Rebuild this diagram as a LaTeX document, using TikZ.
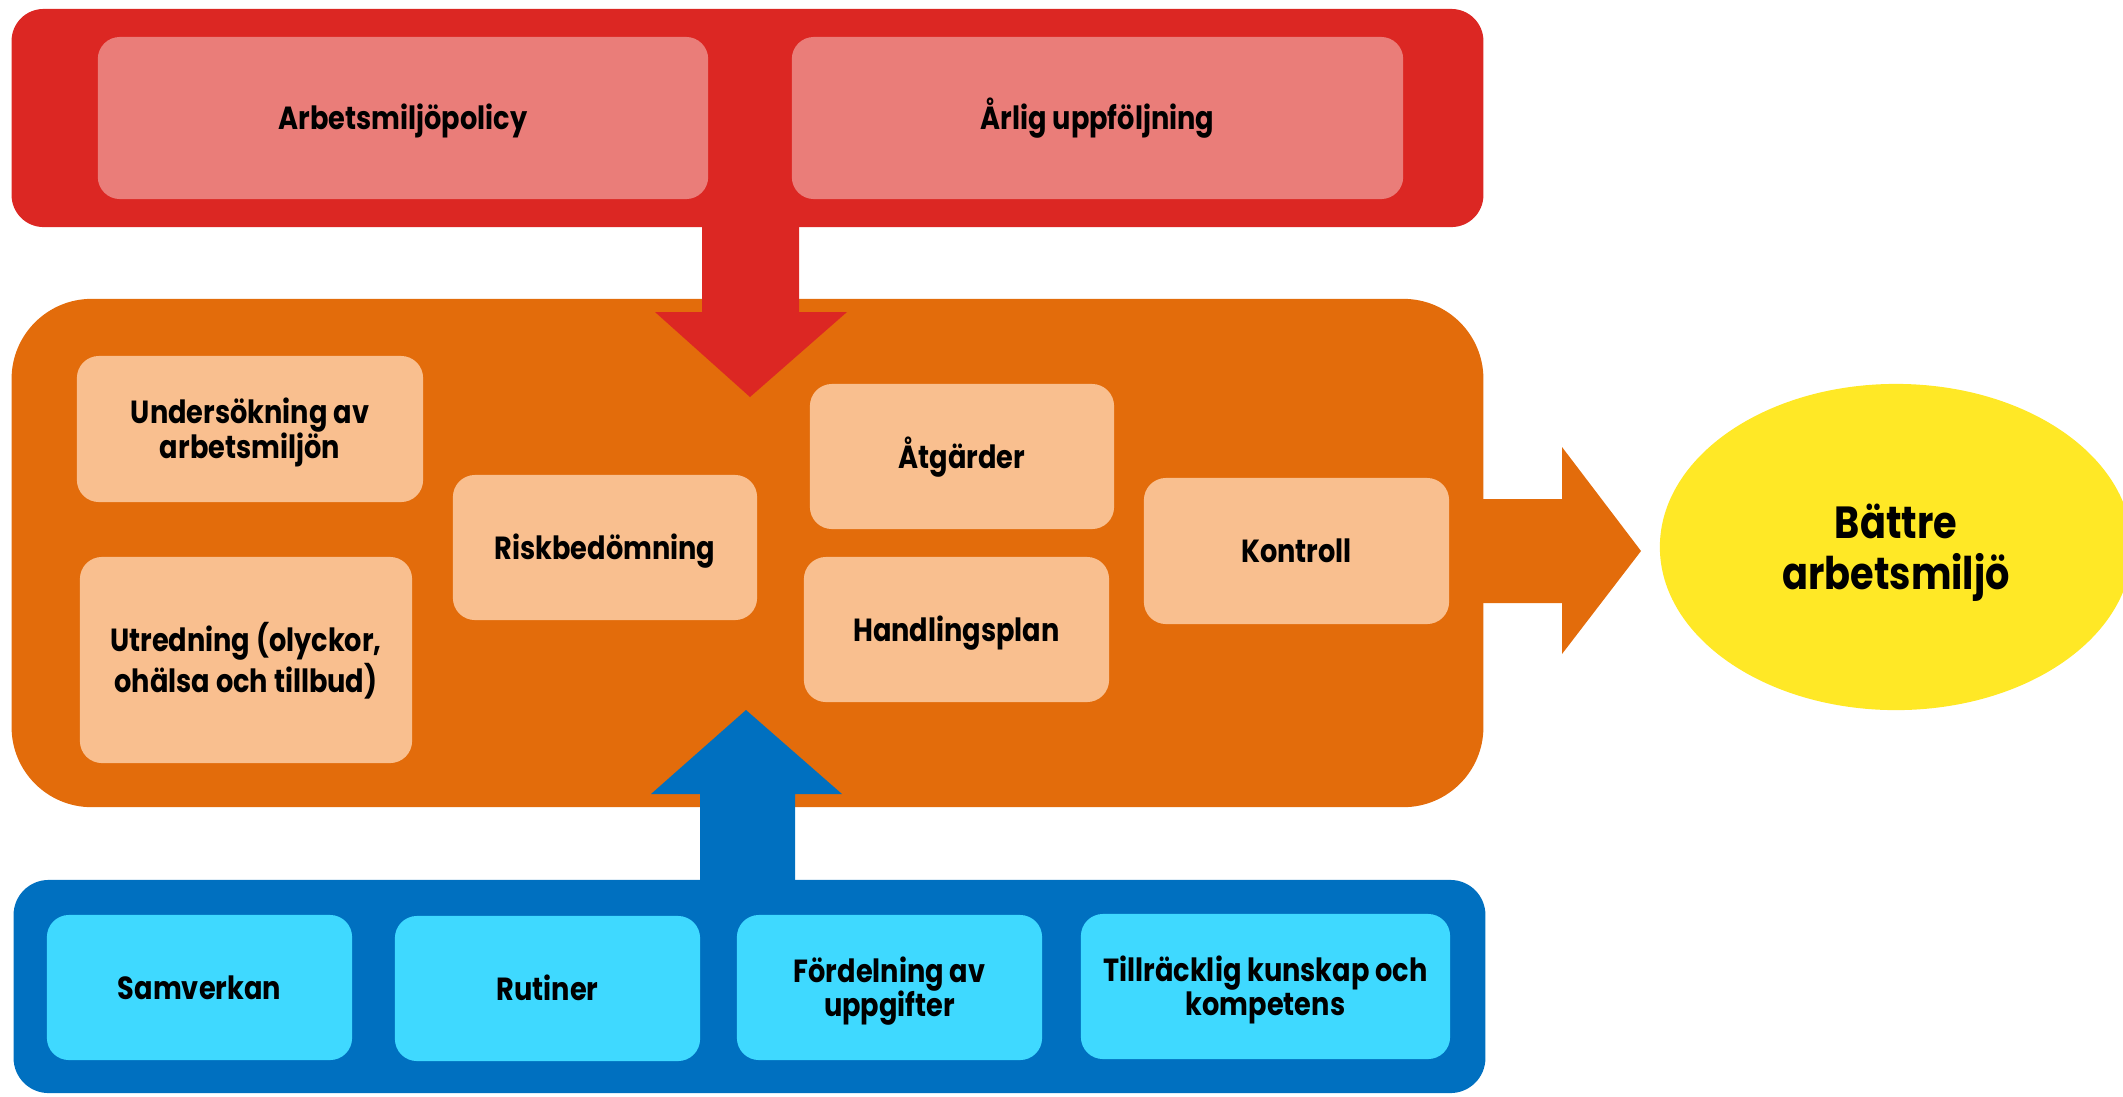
\documentclass[tikz,border=0pt]{standalone}
\usepackage{fontspec}
\setmainfont{Poppins}[FakeStretch=0.85]
\usetikzlibrary{shapes.geometric}
\definecolor{cRed}{HTML}{DC2723}
\definecolor{cPink}{HTML}{EA7D79}
\definecolor{cOrange}{HTML}{E36C0B}
\definecolor{cPeach}{HTML}{F9BF8F}
\definecolor{cBlue}{HTML}{0070C0}
\definecolor{cCyan}{HTML}{3FD9FF}
\definecolor{cYellow}{HTML}{FFE826}
\newcommand\upst{\rule{0pt}{11pt}}
\newcommand\dnst{\rule[-4.2pt]{0pt}{4.2pt}}
\newcommand\upstL{\rule{0pt}{15pt}}
\newcommand\dnstL{\rule[-5.6pt]{0pt}{5.6pt}}
\tikzset{
  panel/.style={fill=#1, draw=none, inner sep=0pt},
  item/.style={fill=#1, draw=none, rounded corners=0.22cm, align=center,
    font=\bfseries\fontsize{9.1}{9.9}\selectfont, text=black, inner sep=2pt},
  goal/.style={ellipse, fill=#1, draw=none, align=center,
    font=\bfseries\fontsize{12.8}{14.5}\selectfont, text=black}
}
\begin{document}
\begin{tikzpicture}[x=0.01cm,y=-0.01cm]
\useasboundingbox (0,0) rectangle (2123,1096);
% top panel
\node[panel=cRed, rounded corners=0.32cm, minimum width=14.71cm, minimum height=2.18cm] (top) at (747.5,118) {};
\node[item=cPink, minimum width=6.10cm, minimum height=1.62cm] (policy) at (403,118) {\upst Arbetsmiljöpolicy\dnst};
\node[item=cPink, minimum width=6.11cm, minimum height=1.62cm] (arlig) at (1097.5,118) {\upst Årlig uppföljning\dnst};
% middle panel
\node[panel=cOrange, rounded corners=0.8cm, minimum width=14.71cm, minimum height=5.08cm] (mid) at (747.5,553) {};
% bottom panel
\node[panel=cBlue, rounded corners=0.35cm, minimum width=14.71cm, minimum height=2.13cm] (bot) at (749.5,986.5) {};
% red arrow down
\coordinate (redtip) at (750,397);
\fill[cRed] (702,227) -- (702,312) -- (655,312) -- (redtip) -- (847,312) -- (799,312) -- (799,227) -- cycle;
% blue arrow up
\coordinate (bluetip) at (746,710);
\fill[cBlue] (700,880) -- (700,794) -- (651,794) -- (bluetip) -- (842,794) -- (795,794) -- (795,880) -- cycle;
% orange arrow right
\coordinate (orangetip) at (1641,551);
\fill[cOrange] (1480,499) -- (1562,499) -- (1562,447) -- (orangetip) -- (1562,654) -- (1562,603) -- (1480,603) -- cycle;
% middle items
\node[item=cPeach, minimum width=3.46cm, minimum height=1.46cm] (unders) at (250,429) {\upst Undersökning av\\arbetsmiljön\dnst};
\node[item=cPeach, minimum width=3.32cm, minimum height=2.06cm] (utred) at (246,660) {\upst Utredning (olyckor,\\ohälsa och tillbud)\dnst};
\node[item=cPeach, minimum width=3.04cm, minimum height=1.45cm] (risk) at (605,547.5) {\upst Riskbedömning\dnst};
\node[item=cPeach, minimum width=3.04cm, minimum height=1.45cm] (atg) at (962,456.5) {\upst Åtgärder\dnst};
\node[item=cPeach, minimum width=3.05cm, minimum height=1.45cm] (handl) at (956.5,629.5) {\upst Handlingsplan\dnst};
\node[item=cPeach, minimum width=3.05cm, minimum height=1.46cm] (kontr) at (1296.5,551) {\upst Kontroll\dnst};
% bottom items
\node[item=cCyan, minimum width=3.05cm, minimum height=1.45cm] (samv) at (199.5,987.5) {\upst Samverkan\dnst};
\node[item=cCyan, minimum width=3.05cm, minimum height=1.45cm] (rut) at (547.5,988.5) {\upst Rutiner\dnst};
\node[item=cCyan, minimum width=3.05cm, minimum height=1.45cm] (ford) at (889.5,987.5) {\upst Fördelning av\\uppgifter\dnst};
\node[item=cCyan, minimum width=3.69cm, minimum height=1.45cm] (till) at (1265.5,986.5) {\upst Tillräcklig kunskap och\\kompetens\dnst};
% ellipse
\node[goal=cYellow, minimum width=4.72cm, minimum height=3.26cm] (battre) at (1896,547) {\upstL Bättre\\arbetsmiljö\dnstL};
\end{tikzpicture}
\end{document}
